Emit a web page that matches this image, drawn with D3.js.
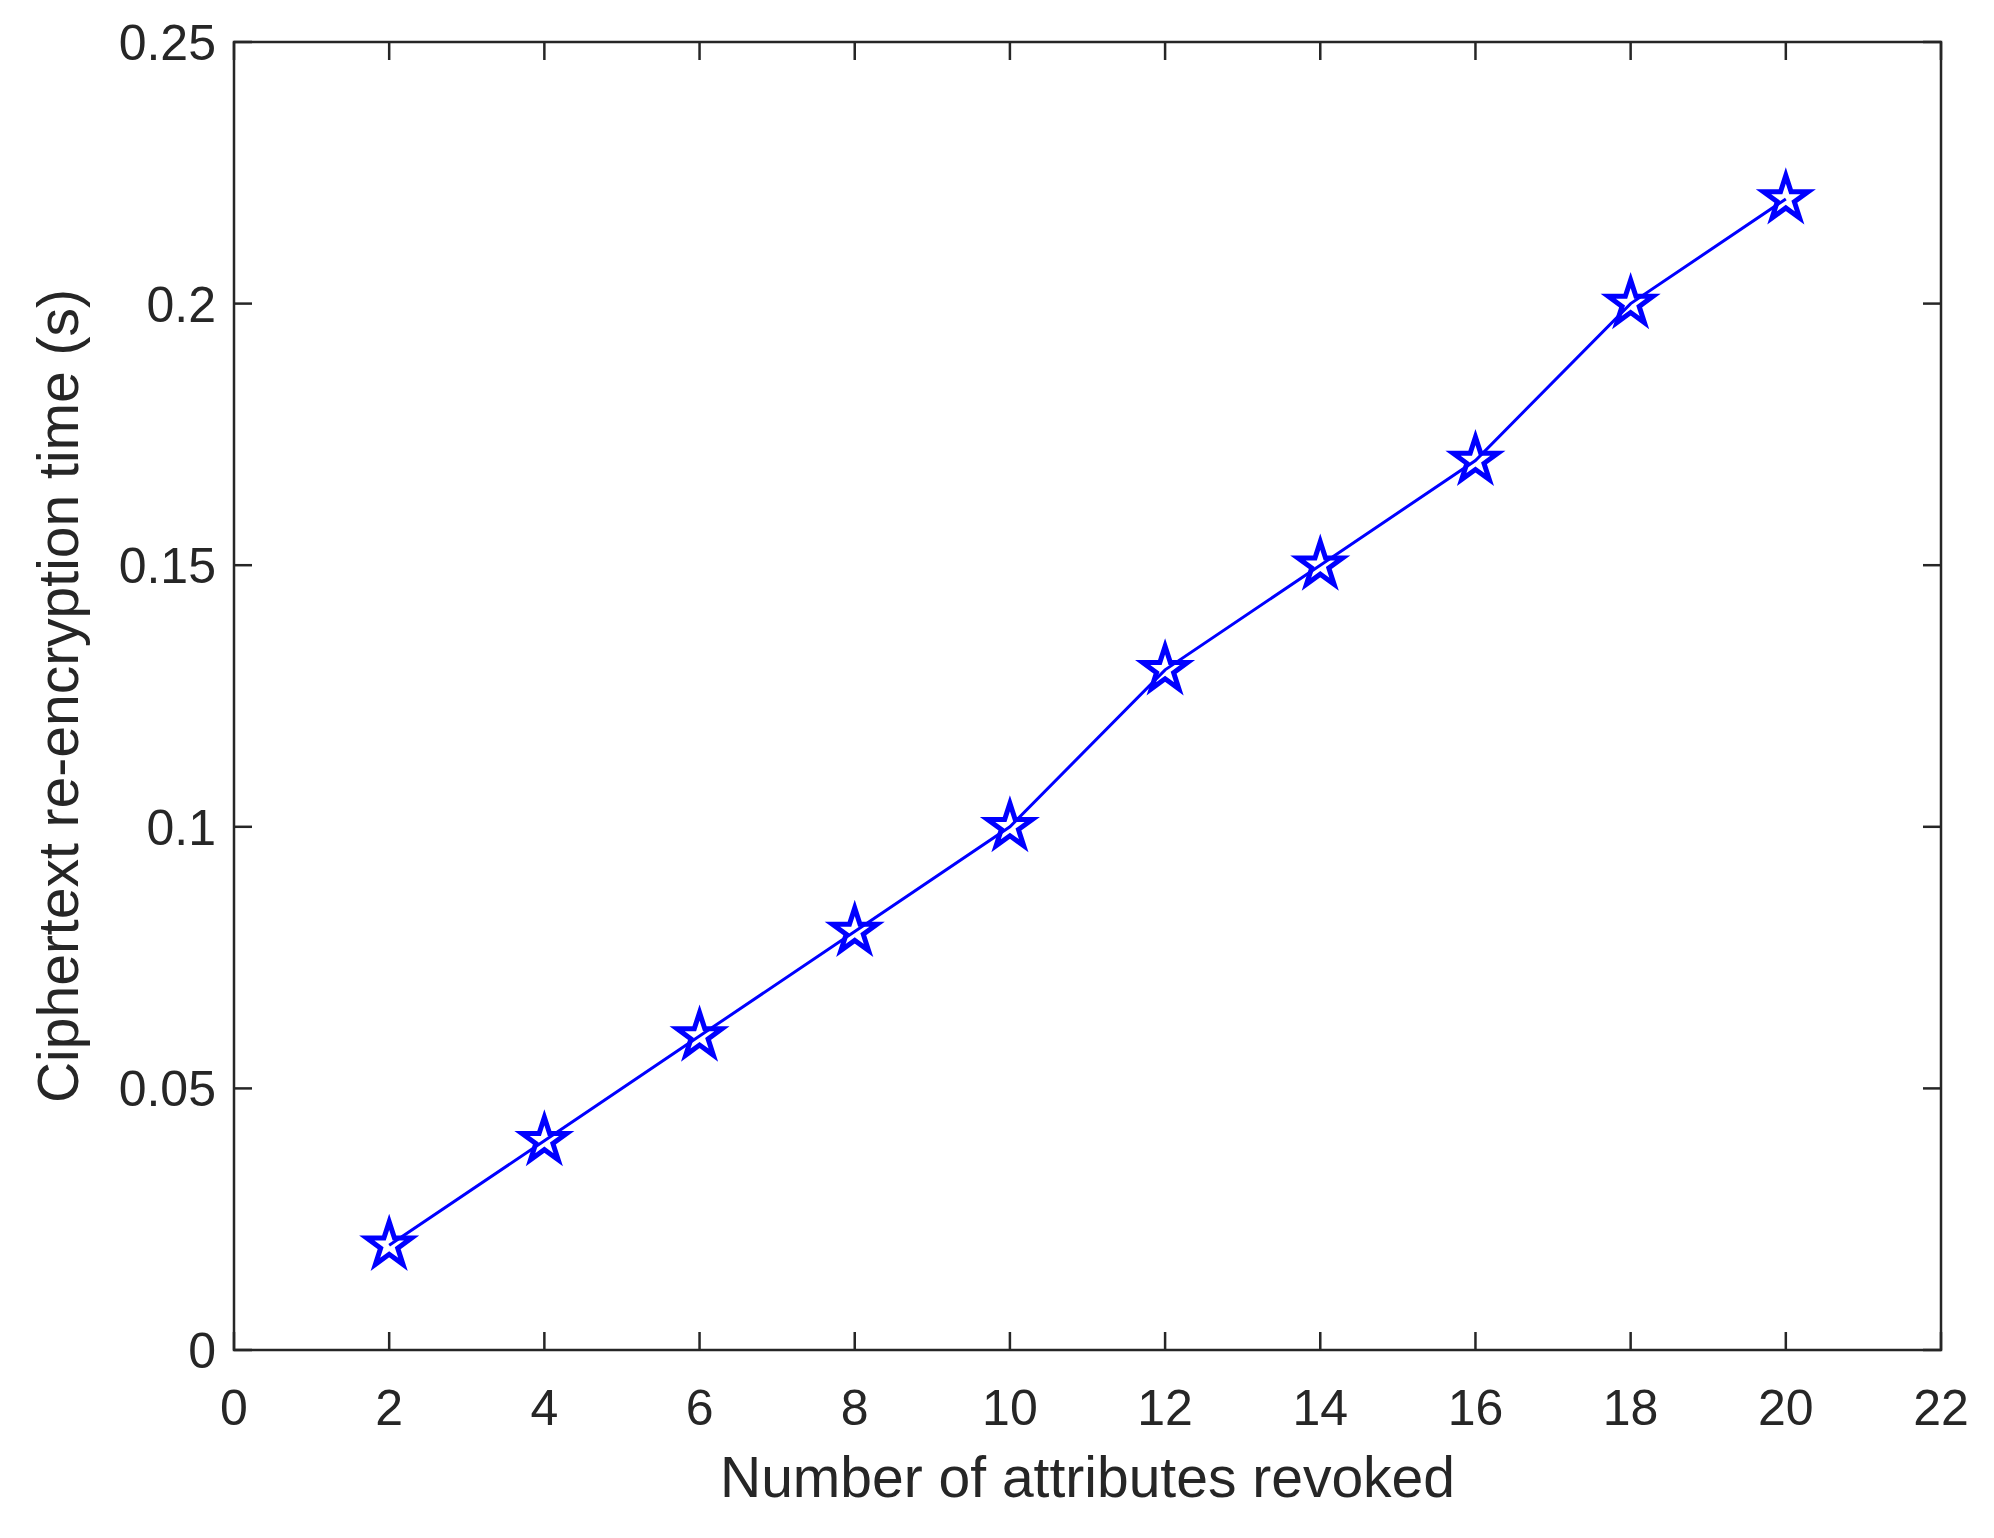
<!DOCTYPE html>
<html><head><meta charset="utf-8">
<script src="https://cdn.jsdelivr.net/npm/d3@7"></script>
<style>body{margin:0;background:#fff}</style></head>
<body><svg id="c" width="1994" height="1538"></svg>
<script>
const xVals=[2,4,6,8,10,12,14,16,18,20];
const yVals=[0.02,0.04,0.06,0.08,0.10,0.13,0.15,0.17,0.20,0.22];
const xTicks=[0,2,4,6,8,10,12,14,16,18,20,22];
const yTicks=[0,0.05,0.1,0.15,0.2,0.25];
const yTickLabels=["0","0.05","0.1","0.15","0.2","0.25"];
const L=234,R=1941,T=42,B=1350;
const svg=d3.select("#c");
const x=d3.scaleLinear().domain([0,22]).range([L,R]);
const y=d3.scaleLinear().domain([0,0.25]).range([B,T]);
const font="Liberation Sans, Arial, sans-serif", col="#262626";
const tl=18;
const g=svg.append("g");
xTicks.forEach(t=>{
  g.append("line").attr("x1",x(t)).attr("x2",x(t)).attr("y1",B).attr("y2",B-tl).attr("stroke",col).attr("stroke-width",2.5);
  g.append("line").attr("x1",x(t)).attr("x2",x(t)).attr("y1",T).attr("y2",T+tl).attr("stroke",col).attr("stroke-width",2.5);
  g.append("text").attr("x",x(t)).attr("y",B+75).attr("text-anchor","middle").attr("font-family",font).attr("font-size",50).attr("fill",col).text(t);
});
yTicks.forEach((t,i)=>{
  g.append("line").attr("x1",L).attr("x2",L+tl).attr("y1",y(t)).attr("y2",y(t)).attr("stroke",col).attr("stroke-width",2.5);
  g.append("line").attr("x1",R).attr("x2",R-tl).attr("y1",y(t)).attr("y2",y(t)).attr("stroke",col).attr("stroke-width",2.5);
  g.append("text").attr("x",L-18).attr("y",y(t)+18).attr("text-anchor","end").attr("font-family",font).attr("font-size",50).attr("fill",col).text(yTickLabels[i]);
});
g.append("rect").attr("x",L).attr("y",T).attr("width",R-L).attr("height",B-T).attr("fill","none").attr("stroke",col).attr("stroke-width",2.5);
const data=xVals.map((v,i)=>[v,yVals[i]]);
svg.append("path").datum(data).attr("d",d3.line().x(d=>x(d[0])).y(d=>y(d[1]))).attr("fill","none").attr("stroke","#0000ff").attr("stroke-width",3);
const star=d3.symbol().type(d3.symbolStar).size(620);
svg.selectAll(".s").data(data).enter().append("path").attr("d",star).attr("transform",d=>`translate(${x(d[0])},${y(d[1])})`).attr("fill","none").attr("stroke","#0000ff").attr("stroke-width",5);
svg.append("text").attr("x",(L+R)/2).attr("y",1497).attr("text-anchor","middle").attr("font-family",font).attr("font-size",57).attr("fill",col).text("Number of attributes revoked");
svg.append("text").attr("transform",`translate(78,${(T+B)/2}) rotate(-90)`).attr("text-anchor","middle").attr("font-family",font).attr("font-size",57).attr("fill",col).text("Ciphertext re-encryption time (s)");
</script></body></html>
